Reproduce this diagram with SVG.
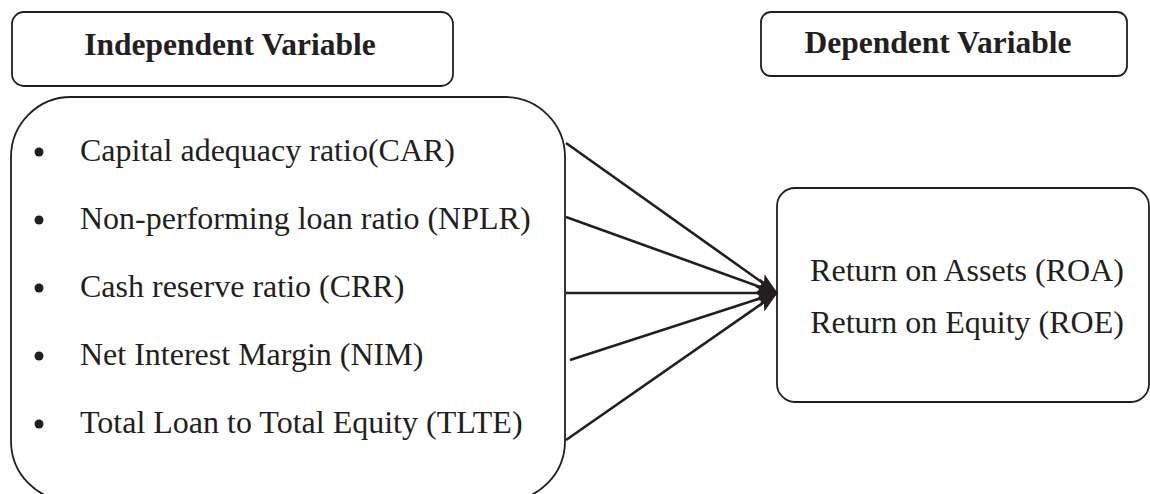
<svg xmlns="http://www.w3.org/2000/svg" width="1150" height="494" viewBox="0 0 1150 494">
  <style>
    .box { fill: #ffffff; stroke: #231f20; stroke-width: 1.8; }
    .title { font-family: "Liberation Serif", "Times New Roman", serif; font-weight: bold; font-size: 31.5px; fill: #231f20; text-anchor: middle; }
    .item { font-family: "Liberation Serif", "Times New Roman", serif; font-size: 32px; fill: #231f20; }
    .mid { text-anchor: middle; }
    .bullet { fill: #231f20; }
    .conn { stroke: #231f20; stroke-width: 2.6; fill: none; marker-end: url(#arrow); }
  </style>
  <defs>
    <marker id="arrow" viewBox="0 0 22 16" refX="21" refY="8" markerWidth="22" markerHeight="16" markerUnits="userSpaceOnUse" orient="auto">
      <path d="M0,0 L22,8 L0,16 L5,8 Z" fill="#231f20"/>
    </marker>
  </defs>
  <rect width="1150" height="494" fill="#ffffff"/>

  <g id="independent-title">
    <rect class="box" x="12" y="12" width="441" height="74" rx="12"/>
    <text class="title" x="230" y="55">Independent Variable</text>
  </g>

  <g id="dependent-title">
    <rect class="box" x="761" y="12" width="366" height="64" rx="10"/>
    <text class="title" x="938" y="53">Dependent Variable</text>
  </g>

  <g id="independent-vars">
    <rect class="box" x="11" y="97" width="554" height="404" rx="60"/>
    <circle class="bullet" cx="39" cy="152" r="4.5"/>
    <text class="item" x="80" y="161">Capital adequacy ratio(CAR)</text>
    <circle class="bullet" cx="39" cy="220" r="4.5"/>
    <text class="item" x="80" y="229">Non-performing loan ratio (NPLR)</text>
    <circle class="bullet" cx="39" cy="288" r="4.5"/>
    <text class="item" x="80" y="297">Cash reserve ratio (CRR)</text>
    <circle class="bullet" cx="39" cy="356" r="4.5"/>
    <text class="item" x="80" y="365">Net Interest Margin (NIM)</text>
    <circle class="bullet" cx="39" cy="424" r="4.5"/>
    <text class="item" x="80" y="433">Total Loan to Total Equity (TLTE)</text>
  </g>

  <g id="dependent-vars">
    <rect class="box" x="777" y="188" width="372" height="214" rx="18"/>
    <text class="item mid" x="967" y="281">Return on Assets (ROA)</text>
    <text class="item mid" x="967" y="333">Return on Equity (ROE)</text>
  </g>

  <g id="connectors">
    <line class="conn" x1="566" y1="143" x2="777" y2="293"/>
    <line class="conn" x1="566" y1="217" x2="777" y2="293"/>
    <line class="conn" x1="566" y1="293" x2="777" y2="293"/>
    <line class="conn" x1="570" y1="360" x2="777" y2="293"/>
    <line class="conn" x1="566" y1="440" x2="777" y2="293"/>
  </g>
</svg>
